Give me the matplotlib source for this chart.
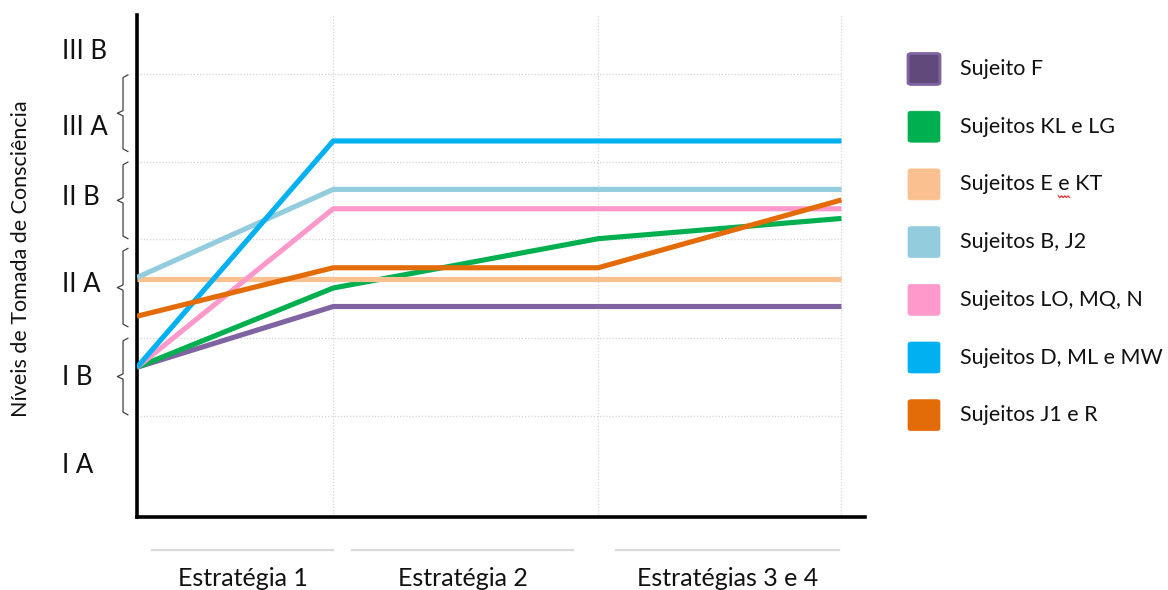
import matplotlib.pyplot as plt
from matplotlib.patches import FancyBboxPatch
from matplotlib.transforms import blended_transform_factory

plt.rcParams["font.family"] = ["Lato", "DejaVu Sans"]

# Stages along the x axis (last point closes the chart at the right edge)
stages = ["Estratégia 1", "Estratégia 2", "Estratégias 3 e 4"]
stage_x = [0.0, 1.0, 2.35, 3.59]

# Awareness levels, bottom to top
levels = ["I A", "I B", "II A", "II B", "III A", "III B"]

# Series: level reached at each point of stage_x
subjects = [
    "Sujeito F",
    "Sujeitos KL e LG",
    "Sujeitos E e KT",
    "Sujeitos B, J2",
    "Sujeitos LO, MQ, N",
    "Sujeitos D, ML e MW",
    "Sujeitos J1 e R",
]
sujeito_f = [1.70, 2.39, 2.39, 2.39]
sujeitos_kl_lg = [1.70, 2.60, 3.16, 3.39]
sujeitos_e_kt = [2.70, 2.70, 2.70, 2.70]
sujeitos_b_j2 = [2.72, 3.72, 3.72, 3.72]
sujeitos_lo_mq_n = [1.70, 3.50, 3.50, 3.50]
sujeitos_d_ml_mw = [1.70, 4.27, 4.27, 4.27]
sujeitos_j1_r = [2.28, 2.83, 2.83, 3.60]

colors = ["#8064A2", "#00B050", "#FAC090", "#93CDDD", "#FF99CC", "#00B0F0", "#E36C09"]
series = [sujeito_f, sujeitos_kl_lg, sujeitos_e_kt, sujeitos_b_j2,
          sujeitos_lo_mq_n, sujeitos_d_ml_mw, sujeitos_j1_r]

W, H = 1168, 590
fig = plt.figure(figsize=(W / 100, H / 100), dpi=100)
ax = fig.add_axes([137 / W, 73 / H, 728 / W, 502 / H])
ax.set_xlim(0, 3.71)
ax.set_ylim(0, 5.70)

# dotted grid
for gy in [1.15, 2.03, 3.16, 4.03, 5.03]:
    ax.plot([0, stage_x[-1]], [gy, gy], color="#D4D4D4", lw=0.9, ls=(0, (1, 1.5)), zorder=1)
for gx in stage_x[1:]:
    ax.axvline(gx, color="#D4D4D4", lw=0.9, ls=(0, (1, 1.5)), zorder=1)

for name, vals, c in zip(subjects, series, colors):
    ax.plot(stage_x, vals, color=c, lw=3.7, solid_capstyle="butt", zorder=3, label=name)

for side in ["top", "right"]:
    ax.spines[side].set_visible(False)
for side in ["left", "bottom"]:
    ax.spines[side].set_linewidth(2.6)
    ax.spines[side].set_color("black")
ax.set_xticks([])
ax.set_yticks([])

# level names and braces on the left
trans_y = blended_transform_factory(ax.transAxes, ax.transData)
level_y = [0.59, 1.58, 2.64, 3.63, 4.42, 5.28]
for lab, ly in zip(levels, level_y):
    ax.text(-0.103, ly, lab, transform=trans_y, ha="left", va="center",
            fontsize=18.5, color="#111111", clip_on=False)

brace_spans = [(1.16, 2.03), (2.16, 3.05), (3.16, 4.03), (4.15, 5.02)]
xv, xh, xm = -0.0192, -0.0125, -0.027
for lo, hi in brace_spans:
    mid = (lo + hi) / 2
    d = 0.03
    bx = [xh, xv, xv, xm, xv, xv, xh]
    by = [hi, hi - d, mid + d, mid, mid - d, lo + d, lo]
    ax.plot(bx, by, transform=trans_y, color="#404040", lw=0.9, clip_on=False)

ax.text(-0.160, 0.515, "Níveis de Tomada de Consciência", transform=ax.transAxes,
        rotation=90, ha="center", va="center", fontsize=15.5, color="#111111")

# stage labels with grey rules under the axis
trans_x = blended_transform_factory(ax.transData, ax.transAxes)
stage_spans = [(0.077, 1.0), (1.097, 2.224), (2.439, 3.577)]
for lab, (a, b) in zip(stages, stage_spans):
    ax.plot([a, b], [-0.0657, -0.0657], transform=trans_x, color="#D9D9D9",
            lw=1.6, clip_on=False)
    ax.text((a + b) / 2, -0.122, lab, transform=trans_x, ha="center", va="center",
            fontsize=18, color="#111111")

# legend drawn as colored squares beside the chart
renderer = fig.canvas.get_renderer()
for i, (name, c) in enumerate(zip(subjects, colors)):
    yc = 1 - (69 + i * 57.7) / H
    w, h = 32 / W, 31 / H
    face = "#604A7B" if i == 0 else c
    box = FancyBboxPatch((908 / W, yc - h / 2), w, h,
                         boxstyle="round,pad=0,rounding_size=0.003",
                         transform=fig.transFigure, facecolor=face, edgecolor=c,
                         lw=2 if i == 0 else 0.5)
    fig.patches.append(box)
    t = fig.text(960 / W, yc, name, ha="left", va="center", fontsize=15.5, color="#111111")
    if name == "Sujeitos E e KT":
        # spell-check squiggle under the lone "e"
        pre = fig.text(0, 0, "Sujeitos E ", fontsize=15.5)
        pe = fig.text(0, 0, "e", fontsize=15.5)
        x0 = 960 + pre.get_window_extent(renderer).width
        ew = pe.get_window_extent(renderer).width
        pre.remove()
        pe.remove()
        ybase = (1 - yc) * H + 12
        n = 8
        sx = [x0 + k * ew / (n - 1) for k in range(n)]
        sy = [ybase + (1.2 if k % 2 else -0.6) for k in range(n)]
        fig.lines.append(plt.Line2D([x / W for x in sx], [1 - y / H for y in sy],
                                    transform=fig.transFigure, color="#E02020", lw=0.8))

fig.savefig("out.png", dpi=100)
